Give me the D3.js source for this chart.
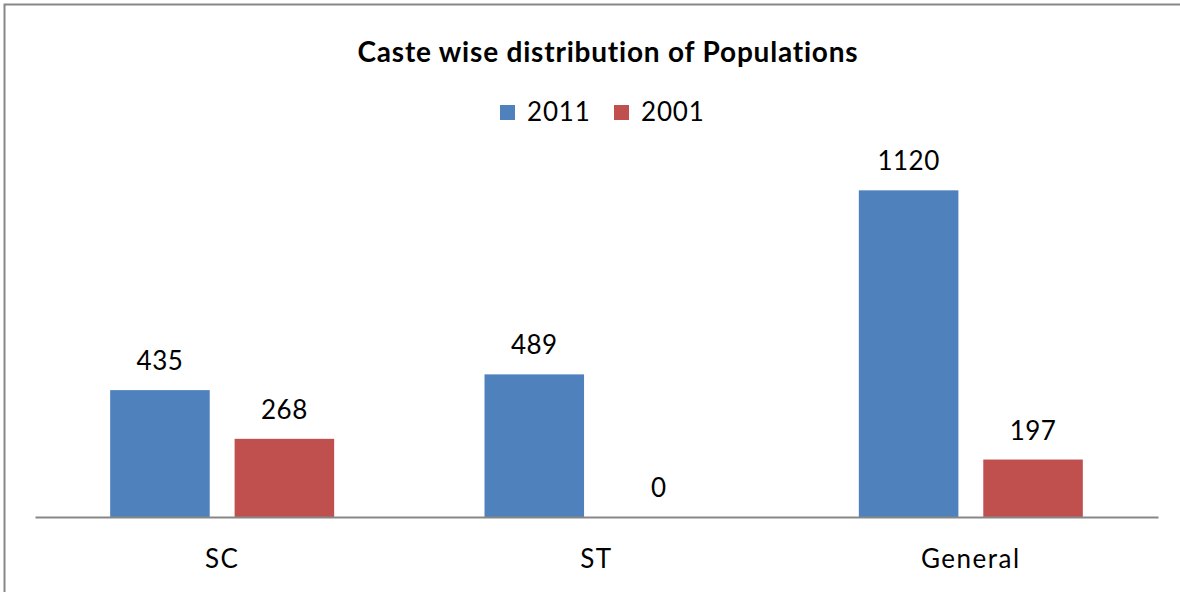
<!DOCTYPE html>
<html>
<head>
<meta charset="utf-8">
<script src="https://cdn.jsdelivr.net/npm/d3@7"></script>
<style>
  body { margin: 0; background: #fff; }
  svg { display: block; font-family: Lato, "Open Sans", sans-serif; font-variant-ligatures: none; }
</style>
</head>
<body>
<div id="chart"></div>
<script>
const categories = ["SC", "ST", "General"];
const seriesNames = ["2011", "2001"];
const values2011 = [435, 489, 1120];
const values2001 = [268, 0, 197];
const colors = ["#4F81BD", "#C0504D"];

const W = 1180, H = 592;
const svg = d3.select("#chart").append("svg")
    .attr("width", W)
    .attr("height", H);

// outer frame (only top and left edges show in the picture)
svg.append("rect")
    .attr("x", 4.5).attr("y", 4.5)
    .attr("width", W + 20).attr("height", H + 20)
    .attr("fill", "none")
    .attr("stroke", "#878787")
    .attr("stroke-width", 2);

const plot = { left: 35, right: 1158, top: 167, bottom: 517 };
const groupW = 224;

const x0 = d3.scaleBand()
    .domain(categories)
    .range([plot.left, plot.right]);

const x1 = d3.scaleBand()
    .domain(seriesNames)
    .range([0, groupW])
    .paddingInner(0.2);

const y = d3.scaleLinear()
    .domain([0, 1200])
    .range([plot.bottom, plot.top]);

const rows = categories.map((c, i) => ({
    cat: c,
    vals: [
        { name: "2011", value: values2011[i] },
        { name: "2001", value: values2001[i] }
    ]
}));

const groups = svg.append("g")
    .selectAll("g")
    .data(rows)
    .join("g")
    .attr("transform", d => `translate(${x0(d.cat) + (x0.bandwidth() - groupW) / 2},0)`);

groups.selectAll("rect")
    .data(d => d.vals)
    .join("rect")
    .attr("x", d => x1(d.name))
    .attr("y", d => y(d.value))
    .attr("width", x1.bandwidth())
    .attr("height", d => y(0) - y(d.value))
    .attr("fill", (d, i) => colors[i]);

groups.selectAll("text")
    .data(d => d.vals)
    .join("text")
    .attr("x", d => x1(d.name) + x1.bandwidth() / 2)
    .attr("y", d => y(d.value) - 20)
    .attr("text-anchor", "middle")
    .attr("font-size", 26)
    .attr("letter-spacing", 0.5)
    .attr("fill", "#000")
    .text(d => d.value);

// category axis
const xAxis = svg.append("g")
    .attr("transform", `translate(0,${plot.bottom})`)
    .call(d3.axisBottom(x0).tickSize(0).tickPadding(33));
xAxis.select(".domain").attr("stroke", "#878787").attr("stroke-width", 2);
xAxis.selectAll("text")
    .attr("font-size", 26)
    .attr("font-family", "Lato, sans-serif")
    .attr("letter-spacing", 1.5)
    .attr("fill", "#000");

// title
svg.append("text")
    .attr("x", 608)
    .attr("y", 62)
    .attr("text-anchor", "middle")
    .attr("font-weight", "bold")
    .attr("font-size", 28)
    .attr("letter-spacing", 0.8)
    .text("Caste wise distribution of Populations");

// legend
const legend = svg.append("g");
const legendX = [500, 614];
seriesNames.forEach((s, i) => {
    legend.append("rect")
        .attr("x", legendX[i]).attr("y", 105)
        .attr("width", 15).attr("height", 15)
        .attr("fill", colors[i]);
    legend.append("text")
        .attr("x", legendX[i] + 27).attr("y", 121)
        .attr("font-size", 26)
        .attr("letter-spacing", 0.8)
        .text(s);
});
</script>
</body>
</html>
